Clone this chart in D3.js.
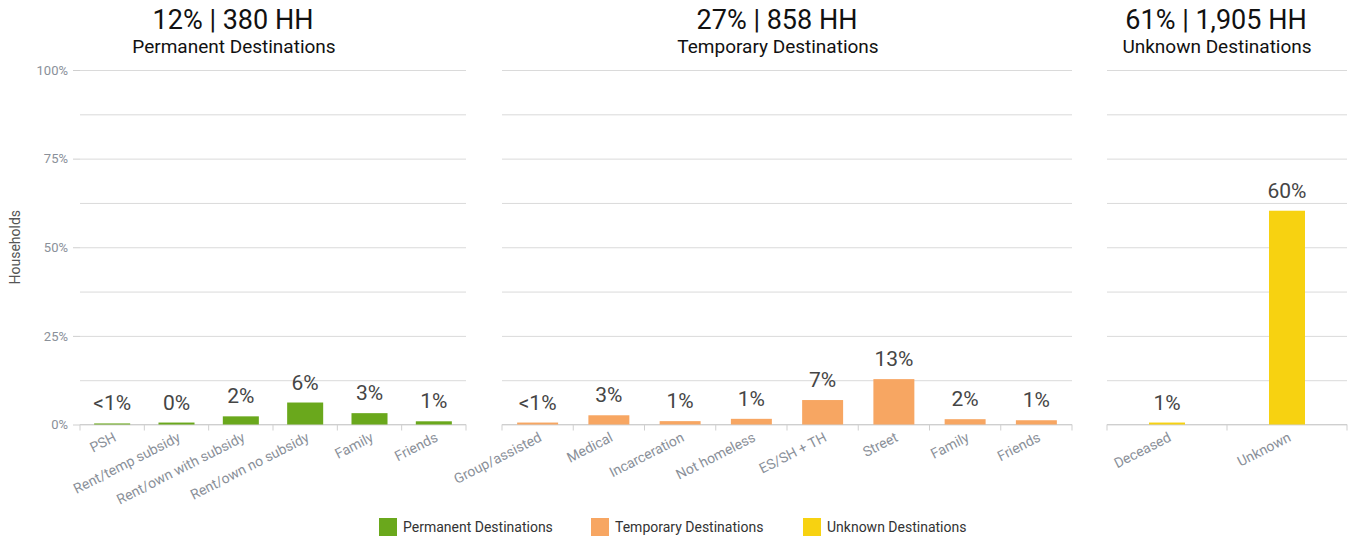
<!DOCTYPE html>
<html>
<head>
<meta charset="utf-8">
<script src="https://cdn.jsdelivr.net/npm/d3@7"></script>
<style>
  html, body { margin: 0; padding: 0; background: #fff; }
  svg { display: block; font-family: Roboto, "Noto Sans", sans-serif; }
</style>
</head>
<body>
<svg id="chart" width="1354" height="541"></svg>
<script>
// ---- Data ----
const permCategories = ["PSH", "Rent/temp subsidy", "Rent/own with subsidy", "Rent/own no subsidy", "Family", "Friends"];
const permValues = [0.3, 0.55, 2.3, 6.2, 3.2, 0.9];
const permLabels = ["<1%", "0%", "2%", "6%", "3%", "1%"];

const tempCategories = ["Group/assisted", "Medical", "Incarceration", "Not homeless", "ES/SH + TH", "Street", "Family", "Friends"];
const tempValues = [0.55, 2.6, 0.95, 1.6, 6.9, 12.8, 1.5, 1.2];
const tempLabels = ["<1%", "3%", "1%", "1%", "7%", "13%", "2%", "1%"];

const unkCategories = ["Deceased", "Unknown"];
const unkValues = [0.55, 60.3];
const unkLabels = ["1%", "60%"];

const panelTitles = ["12% | 380 HH", "27% | 858 HH", "61% | 1,905 HH"];
const panelSubtitles = ["Permanent Destinations", "Temporary Destinations", "Unknown Destinations"];
const seriesNames = ["Permanent Destinations", "Temporary Destinations", "Unknown Destinations"];
const colors = ["#6aa81c", "#f7a662", "#f7d211"];

const yTickValues = [0, 25, 50, 75, 100];
const yGridValues = [0, 12.5, 25, 37.5, 50, 62.5, 75, 87.5, 100];
const yAxisTitle = "Households";

// ---- Layout ----
const svg = d3.select("#chart");
const yTop = 70, yBottom = 424.5;
const y = d3.scaleLinear().domain([0, 100]).range([yBottom, yTop]);

const panels = [
  { cats: permCategories, vals: permValues, labels: permLabels, x0: 80, x1: 466, pad: 0.44, titleX: 233, color: colors[0] },
  { cats: tempCategories, vals: tempValues, labels: tempLabels, x0: 502, x1: 1072, pad: 0.425, titleX: 777, color: colors[1] },
  { cats: unkCategories, vals: unkValues, labels: unkLabels, x0: 1107, x1: 1347, pad: 0.7, titleX: 1216, color: colors[2] }
];

panels.forEach((p, i) => {
  const x = d3.scaleBand().domain(p.cats).range([p.x0, p.x1])
    .paddingInner(p.pad).paddingOuter(p.pad / 2);
  const g = svg.append("g");

  // gridlines
  const grid = g.append("g").attr("transform", `translate(${p.x0},0)`)
    .call(d3.axisLeft(y).tickValues(yGridValues).tickSize(-(p.x1 - p.x0)).tickFormat(""));
  grid.select(".domain").remove();
  grid.selectAll(".tick line").attr("stroke", "#dadada").attr("stroke-width", 1);

  // y axis labels on first panel
  if (i === 0) {
    const ya = g.append("g").attr("transform", `translate(${p.x0},0)`)
      .call(d3.axisLeft(y).tickValues(yTickValues).tickSize(7).tickPadding(5).tickFormat(d => d + "%"));
    ya.select(".domain").remove();
    ya.selectAll(".tick line").attr("stroke", "#cfcfcf");
    ya.selectAll(".tick text").attr("fill", "#8a9099").style("font-size", "13px")
      .style("font-family", "Roboto, sans-serif");
  }

  // baseline
  g.append("line").attr("x1", p.x0).attr("x2", p.x1)
    .attr("y1", y(0)).attr("y2", y(0)).attr("stroke", "#cfcfcf");

  // boundary ticks
  const step = x.step();
  const bounds = d3.range(p.cats.length + 1).map(k => p.x0 + k * step);
  g.selectAll(".btick").data(bounds).join("line")
    .attr("x1", d => d).attr("x2", d => d)
    .attr("y1", y(0)).attr("y2", y(0) + 6)
    .attr("stroke", "#cfcfcf");

  // x labels
  const xa = g.append("g").attr("transform", `translate(0,${y(0)})`)
    .call(d3.axisBottom(x).tickSize(0).tickPadding(0));
  xa.select(".domain").remove();
  xa.selectAll(".tick text")
    .attr("fill", "#8a9099").style("font-size", "14px")
    .style("font-family", "Roboto, sans-serif")
    .attr("text-anchor", "end")
    .attr("dy", "0")
    .attr("transform", "translate(5,16) rotate(-27)");

  // bars
  const data = p.cats.map((c, k) => ({ c, v: p.vals[k], l: p.labels[k] }));
  g.selectAll(".bar").data(data).join("rect")
    .attr("x", d => x(d.c)).attr("width", x.bandwidth())
    .attr("y", d => y(d.v)).attr("height", d => y(0) - y(d.v))
    .attr("fill", p.color);

  // value labels
  g.selectAll(".vl").data(data).join("text")
    .attr("x", d => x(d.c) + x.bandwidth() / 2)
    .attr("y", d => y(d.v) - 13)
    .attr("text-anchor", "middle")
    .attr("fill", "#454545")
    .style("font-size", "21px")
    .text(d => d.l);

  // titles
  svg.append("text").attr("x", p.titleX).attr("y", 29)
    .attr("text-anchor", "middle").attr("fill", "#111")
    .style("font-size", "27px").text(panelTitles[i]);
  svg.append("text").attr("x", p.titleX + 1).attr("y", 53)
    .attr("text-anchor", "middle").attr("fill", "#111")
    .style("font-size", "19px").text(panelSubtitles[i]);
});

// y axis title
svg.append("text")
  .attr("transform", `translate(20,${(yTop + yBottom) / 2}) rotate(-90)`)
  .attr("text-anchor", "middle").attr("fill", "#555")
  .style("font-size", "14px").text(yAxisTitle);

// legend
const legendX = [379, 591, 803];
const lg = svg.append("g");
seriesNames.forEach((name, i) => {
  lg.append("rect").attr("x", legendX[i]).attr("y", 518).attr("width", 18).attr("height", 18)
    .attr("fill", colors[i]);
  lg.append("text").attr("x", legendX[i] + 24).attr("y", 532)
    .attr("fill", "#333").style("font-size", "14px").text(name);
});
</script>
</body>
</html>
